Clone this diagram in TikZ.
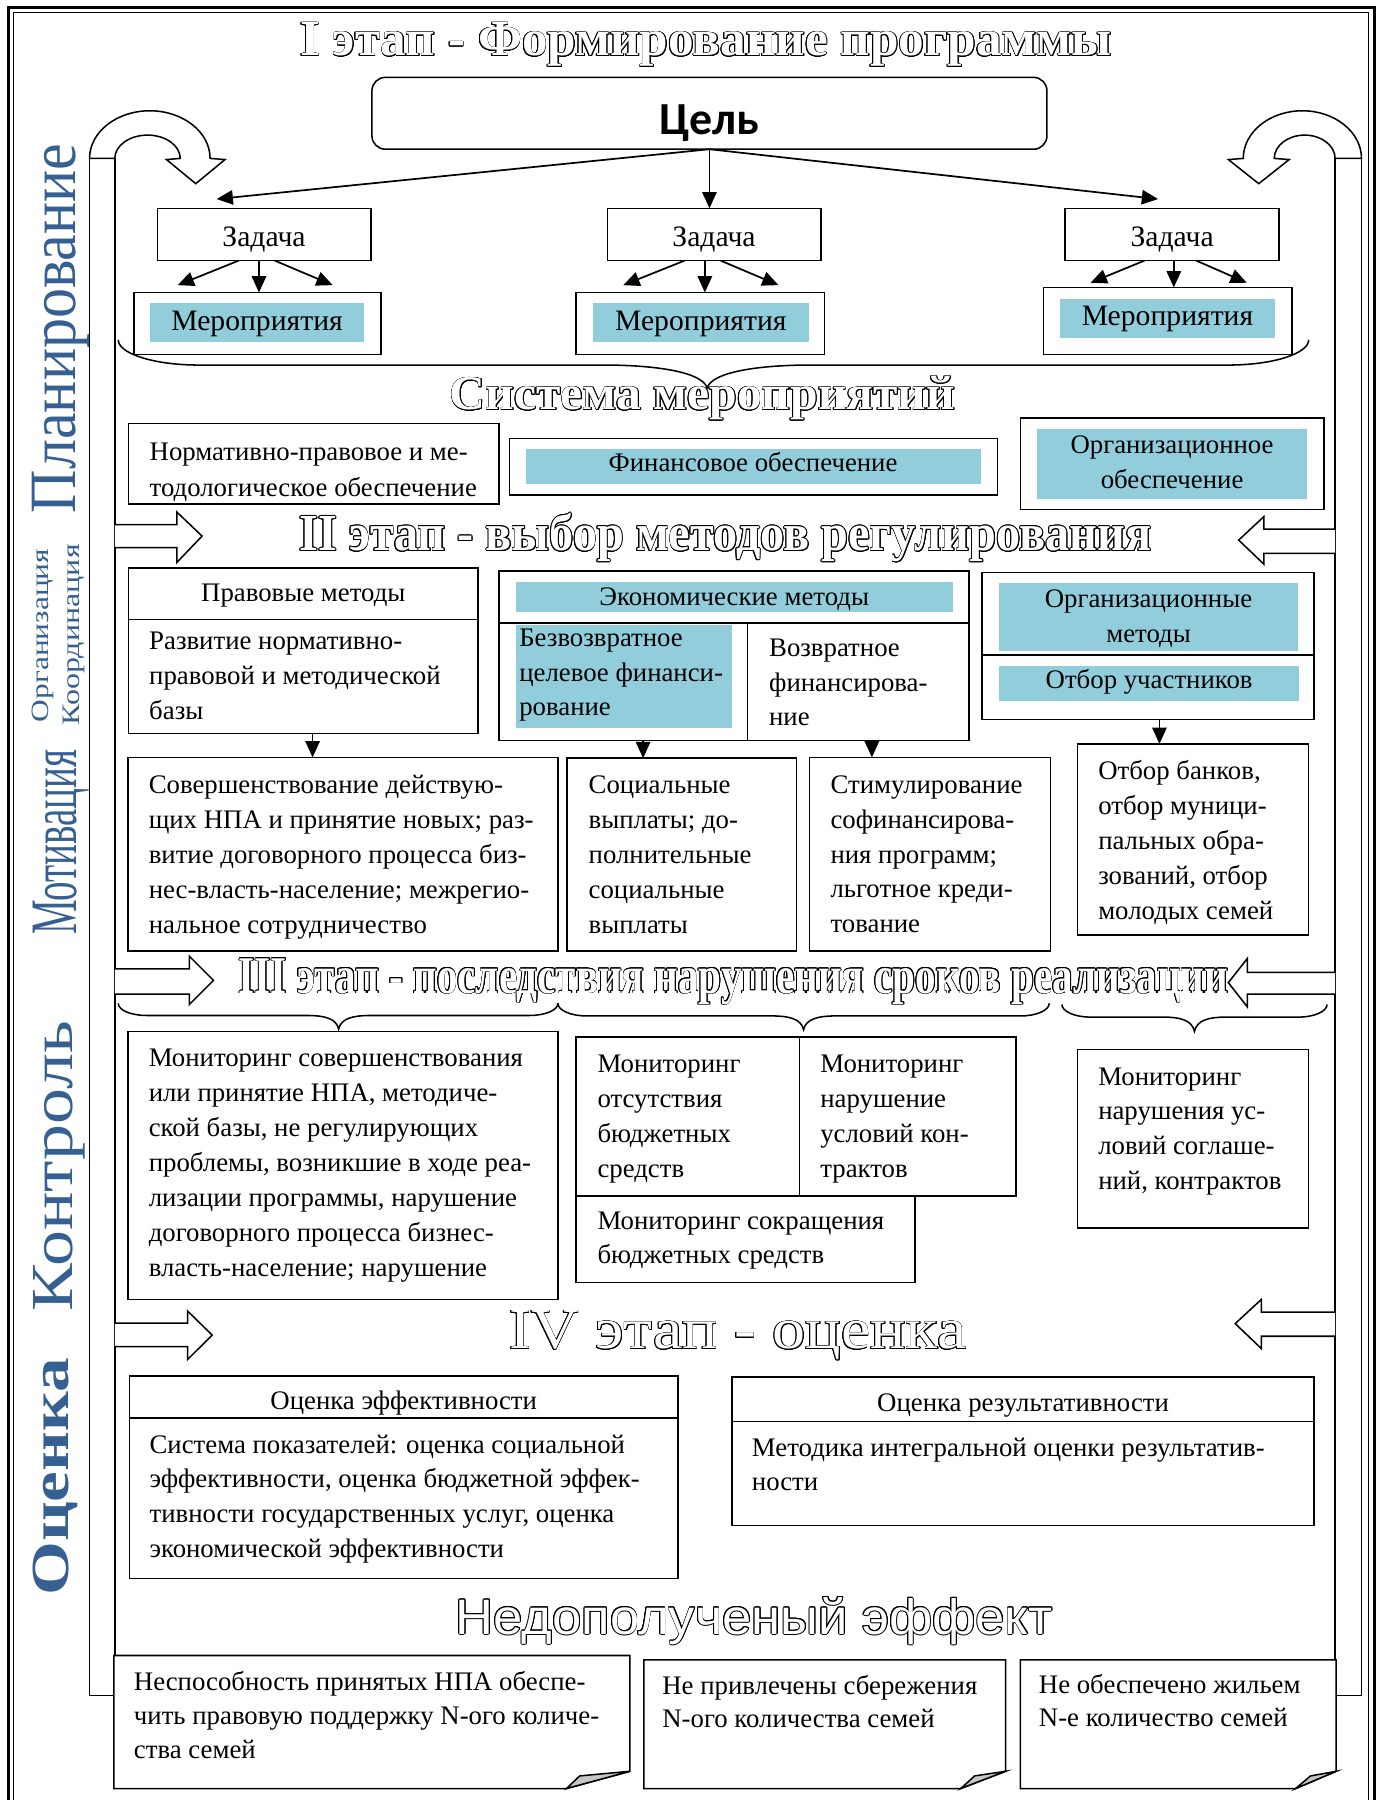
\documentclass[tikz,border=0pt]{standalone}
\usepackage{fontspec}
\setmainfont{Liberation Serif}
\newfontfamily\sansf{Liberation Sans}
\newfontfamily\calibf{Carlito}
\usetikzlibrary{arrows.meta,calc,fit}

\definecolor{aqua}{RGB}{146,205,220}
\definecolor{lblue}{RGB}{55,96,146}

\newcommand\bodyfont{\fontsize{14}{18.24}\selectfont}
% left-aligned block of explicit lines, baseline = first line
\newcommand\lines[2][18.24pt]{\parbox[t]{12cm}{\fontsize{14}{#1}\selectfont\raggedright #2}}
% centred block of explicit lines
\newcommand\clines[2]{\parbox[t]{#1}{\bodyfont\centering #2}}
% hollow (outlined) lettering: black copies around a white copy
\newcommand\outlinetext[1]{%
  \leavevmode\rlap{\color{black}%
    \foreach \ang in {0,22.5,...,337.5}{%
      \pgfmathsetlengthmacro\dx{0.42pt*cos(\ang)}%
      \pgfmathsetlengthmacro\dy{0.42pt*sin(\ang)}%
      \rlap{\hspace*{\dx}\raisebox{\dy}{#1}}}}%
  {\color{white}#1}}

\tikzset{
  ln/.style={line width=0.8pt},
  box/.style={draw, line width=0.8pt, fill=white, inner sep=0pt, outer sep=0pt},
  bluebox/.style={fill=aqua, inner sep=0pt, outer sep=0pt},
  txt/.style={anchor=base west, inner sep=0pt, outer sep=0pt},
  ctxt/.style={anchor=base, inner sep=0pt, outer sep=0pt, font=\bodyfont},
  ztxt/.style={anchor=base, inner sep=0pt, outer sep=0pt, font=\fontsize{15.5}{18}\selectfont},
  arr/.style={line width=0.9pt, -{Triangle[length=8.5pt,width=7.5pt]}},
  blockarrow/.style={draw, line width=0.8pt, fill=white, line join=miter},
  vlabel/.style={rotate=90, inner sep=0pt, outer sep=0pt, text=lblue},
  title/.style={inner sep=0pt, outer sep=0pt},
}

\begin{document}
\begin{tikzpicture}[x=0.6pt, y=-0.6pt]
\useasboundingbox (0,0) rectangle (1200,1568);

% ---------- page frame (thick outside, thin inside)
\draw[line width=1.6pt] (7,6.4) rectangle (1197,1600);
\draw[line width=0.7pt] (12,11) rectangle (1192,1600);

% ---------- feedback bands on both sides
\draw[ln] (78,138) -- (78,1477) -- (100,1477) -- (100,138);
\draw[ln] (1186,138) -- (1186,1477) -- (1163,1477) -- (1163,138);

% U-turn arrows on top of the bands
\draw[blockarrow] (78,138) .. controls (78,115.1) and (101.5,96.5) .. (130.5,96.5)
  .. controls (159.5,96.5) and (183,115.1) .. (183,138) -- (196,139) -- (170.5,160)
  -- (145,139) -- (157,138) .. controls (157,126.8) and (144.2,117.7) .. (128.5,117.7)
  .. controls (112.8,117.7) and (100,126.8) .. (100,138) -- cycle;
\draw[blockarrow] (1186,138) .. controls (1186,115.1) and (1162.9,96.5) .. (1134.5,96.5)
  .. controls (1106.1,96.5) and (1083,115.1) .. (1083,138) -- (1070,139) -- (1096.5,160)
  -- (1123,139) -- (1110,138) .. controls (1110,126.8) and (1121.9,117.7) .. (1136.5,117.7)
  .. controls (1151.1,117.7) and (1163,126.8) .. (1163,138) -- cycle;

% hollow block arrows leaving the bands
\draw[blockarrow] (100,457) -- (154,457) -- (154,446) -- (176,467) -- (154,490) -- (154,477) -- (100,477);
\draw[blockarrow] (1163,461) -- (1101,461) -- (1101,450) -- (1079,470.5) -- (1101,491.5) -- (1101,482) -- (1163,482);
\draw[blockarrow] (100,844) -- (165,844) -- (165,833) -- (186,854) -- (165,875) -- (165,866) -- (100,866);
\draw[blockarrow] (1163,847) -- (1086.5,847) -- (1086.5,835) -- (1070,856) -- (1086.5,877) -- (1086.5,866) -- (1163,866);
\draw[blockarrow] (100,1152.5) -- (163.4,1152.5) -- (163.4,1142) -- (184.8,1163) -- (163.4,1184.3) -- (163.4,1173) -- (100,1173);
\draw[blockarrow] (1163,1143) -- (1098.7,1143) -- (1098.7,1132) -- (1076,1153) -- (1098.7,1174.7) -- (1098.7,1164) -- (1163,1164);

% ---------- vertical labels of the management functions
\node[vlabel] (lab-plan) at (53,286) {\resizebox*{193.2pt}{30pt}{Планирование}};
\node[vlabel] (lab-org)  at (37.5,553.5) {\resizebox*{90.6pt}{11.4pt}{Организация}};
\node[vlabel] (lab-coord) at (64.5,553) {\resizebox*{94.8pt}{11.4pt}{Координация}};
\node[vlabel] (lab-mot)  at (53.5,733.6) {\resizebox*{97pt}{29.4pt}{Мотивация}};
\node[vlabel] (lab-ctrl) at (51.5,1015.5) {\resizebox*{151.8pt}{27pt}{Контроль}};
\node[vlabel] (lab-eval) at (48.5,1286.5) {\resizebox*{124.2pt}{23.4pt}{\bfseries Оценка}};

% ---------- stage titles (hollow lettering)
\node[title] (st1) at (615,38.9) {\outlinetext{\resizebox*{424.2pt}{22.9pt}{\bfseries I этап - Формирование программы}}};
\node[title] (sys) at (612,347) {\outlinetext{\resizebox*{264pt}{22.8pt}{\bfseries Система мероприятий}}};
\node[title] (st2) at (632,468.4) {\outlinetext{\resizebox*{445.2pt}{25.3pt}{\bfseries II этап - выбор методов регулирования}}};
\node[title] (st3) at (639,855) {\outlinetext{\resizebox*{517.2pt}{24.1pt}{\bfseries III этап - последствия нарушения сроков реализации}}};
\node[title] (st4) at (642.7,1163.4) {\outlinetext{\resizebox*{239pt}{25.7pt}{IV этап - оценка}}};
\node[title] (lost) at (657,1412) {\outlinetext{\resizebox*{312pt}{24.7pt}{\sansf Недополученый эффект}}};

% ---------- stage I: goal, tasks, measures
\node[box, rounded corners=7pt, fit={(324,67.4) (912,130)}] (cel) {};
\node[anchor=base, inner sep=0pt, font=\calibf\bfseries\fontsize{24}{28}\selectfont] (cel-t) at (618,117.1) {Цель};

\node[box, fit={(137,181.5) (323,227)}] (zad1) {};
\node[box, fit={(529,181.5) (715,227)}] (zad2) {};
\node[box, fit={(927.5,181.5) (1114.3,227)}] (zad3) {};
\node[ztxt] (zad1-t) at (230,214.4) {Задача};
\node[ztxt] (zad2-t) at (622,214.4) {Задача};
\node[ztxt] (zad3-t) at (1021,214.4) {Задача};

\node[box, fit={(116.7,254.8) (331.9,308.8)}] (mer1) {};
\node[box, fit={(501.9,254.8) (718.4,308.8)}] (mer2) {};
\node[box, fit={(908.8,250.4) (1125.3,308.8)}] (mer3) {};
\node[bluebox, fit={(130.7,264.3) (317,297.8)}] (mer1-b) {};
\node[bluebox, fit={(516.7,264.3) (704.4,297.8)}] (mer2-b) {};
\node[bluebox, fit={(923.2,260.6) (1111,294.3)}] (mer3-b) {};
\node[ztxt] (mer1-t) at (223.9,287.6) {Мероприятия};
\node[ztxt] (mer2-t) at (610.5,287.6) {Мероприятия};
\node[ztxt] (mer3-t) at (1017,283.2) {Мероприятия};

% goal -> tasks
\coordinate (cel-l) at (188.7,173.4);
\coordinate (cel-r) at (1008.8,173.4);
\draw[arr] (cel.south) -- (cel-l);
\draw[arr] (cel.south) -- (cel.south |- zad2.north);
\draw[arr] (cel.south) -- (cel-r);

% tasks -> measures
\coordinate (z1c) at ($(zad1.south)+(-4.4,0)$);
\coordinate (z2c) at ($(zad2.south)+(-8,0)$);
\coordinate (z3c) at ($(zad3.south)+(1.6,0)$);
\draw[arr] (z1c) -- (z1c |- mer1.north);
\draw[arr] (z2c) -- (z2c |- mer2.north);
\draw[arr] (z3c) -- (z3c |- mer3.north);
\draw[arr] ($(zad1.south)+(-22,0)$) -- ($(mer1.north)+(-69.5,-6.4)$);
\draw[arr] ($(zad1.south)+(9.3,0)$) -- ($(mer1.north)+(65.5,-6.4)$);
\draw[arr] ($(zad2.south)+(-25.6,0)$) -- ($(mer2.north)+(-67.2,-6.4)$);
\draw[arr] ($(zad2.south)+(5.7,0)$) -- ($(mer2.north)+(68,-6.4)$);
\draw[arr] ($(zad3.south)+(-23.9,0)$) -- ($(mer3.north)+(-67,-4.1)$);
\draw[arr] ($(zad3.south)+(21.1,0)$) -- ($(mer3.north)+(69,-4.1)$);

% brace gathering the measures
\draw[ln] (103,296) .. controls (103,308) and (134,318) .. (173,318) -- (526,318)
  .. controls (571,318) and (612,324) .. (616,338)
  .. controls (620,324) and (661,318) .. (706,318) -- (1070,318)
  .. controls (1109,318) and (1140,308) .. (1140,296);

% system of measures
\node[box, fit={(112,369) (434.6,439.2)}] (norm) {};
\node[txt] (norm-t) at (130.4,401) {\lines[19pt]{Нормативно-правовое и ме-\\тодологическое обеспечение}};
\node[box, fit={(444,382) (868.9,431.4)}] (fin) {};
\node[bluebox, fit={(458.3,390.7) (854.4,421.8)}] (fin-b) {};
\node[ctxt] (fin-t) at (656,411) {Финансовое обеспечение};
\node[box, fit={(888.8,364) (1153.4,443.9)}] (orgo) {};
\node[bluebox, fit={(903.3,373.3) (1138.6,434.3)}] (orgo-b) {};
\node[anchor=base, inner sep=0pt] (orgo-t) at (1021,395) {\clines{7cm}{Организационное\\обеспечение}};

% ---------- stage II: methods
\node[box, fit={(112,494.7) (416.3,539.7)}] (prav-h) {};
\node[box, fit={(112,539.7) (416.3,639)}] (prav-b) {};
\node[ctxt] (prav-ht) at (264.2,524.3) {Правовые методы};
\node[txt] (prav-bt) at (130,565.9) {\lines{Развитие нормативно-\\правовой и методической\\базы}};

\node[box, fit={(434.6,497.3) (843.9,542.6)}] (econ-h) {};
\node[box, fit={(434.6,542.6) (651.3,644.9)}] (econ-l) {};
\node[box, fit={(651.3,542.6) (843.9,644.9)}] (econ-r) {};
\node[bluebox, fit={(449.4,506.9) (829.8,533)}] (econ-hb) {};
\node[bluebox, fit={(449.4,544.7) (637.6,633.8)}] (econ-lb) {};
\node[ctxt] (econ-ht) at (639.6,527.2) {Экономические методы};
\node[txt] (econ-lt) at (452.4,563.6) {\lines[18pt]{Безвозвратное\\целевое финанси-\\рование}};
\node[txt] (econ-rt) at (670,572.3) {\lines[18pt]{Возвратное\\финансирова-\\ние}};

\node[box, fit={(855.2,498.8) (1144.8,570.8)}] (orgm-h) {};
\node[box, fit={(855.2,570.8) (1144.8,626.6)}] (orgm-s) {};
\node[bluebox, fit={(870.4,507.5) (1130.7,567)}] (orgm-hb) {};
\node[bluebox, fit={(870.4,580.4) (1131.6,610.6)}] (orgm-sb) {};
\node[anchor=base, inner sep=0pt] (orgm-ht) at (1000.5,529.3) {\clines{7cm}{Организационные\\методы}};
\node[ctxt] (orgm-st) at (1001,599.9) {Отбор участников};

\node[box, fit={(111.7,659.8) (486.3,828.5)}] (sov) {};
\node[box, fit={(494.1,660.5) (694,828.5)}] (soc) {};
\node[box, fit={(705,659.8) (915.2,828.5)}] (stim) {};
\node[box, fit={(938.5,648) (1139.9,814.5)}] (otb) {};
\node[txt] (sov-t) at (129.6,691.6) {\lines{Совершенствование действую-\\щих НПА и принятие новых; раз-\\витие договорного процесса биз-\\нес-власть-население; межрегио-\\нальное сотрудничество}};
\node[txt] (soc-t) at (512.8,691.6) {\lines{Социальные\\выплаты; до-\\полнительные\\социальные\\выплаты}};
\node[txt] (stim-t) at (723.5,691) {\lines{Стимулирование\\софинансирова-\\ния программ;\\льготное креди-\\тование}};
\node[txt] (otb-t) at (956.7,679.1) {\lines{Отбор банков,\\отбор муници-\\пальных обра-\\зований, отбор\\молодых семей}};

\coordinate (d1) at ($(prav-b.south west)+(160.3,0)$);
\coordinate (d2) at ($(econ-l.south west)+(125.6,0)$);
\coordinate (d3) at ($(econ-r.south west)+(108.2,0)$);
\coordinate (d4) at ($(orgm-s.south west)+(154.8,0)$);
\draw[arr] (d1) -- (d1 |- sov.north);
\draw[arr] (d2) -- (d2 |- soc.north);
\draw[arr] (d3) -- (d3 |- stim.north);
\draw[arr] (d4) -- (d4 |- otb.north);

% ---------- stage III: monitoring
\draw[ln] (103,874) .. controls (103,880) and (114,884.6) .. (128,884.6) -- (268,884.6)
  .. controls (282,884.6) and (293,887) .. (295,896.4)
  .. controls (297,887) and (308,884.6) .. (322,884.6) -- (461,884.6)
  .. controls (475,884.6) and (486,880) .. (486,874);
\draw[ln] (486,874) .. controls (486,880) and (497,885) .. (511,885) -- (673,885)
  .. controls (687,885) and (698,887.5) .. (700,897)
  .. controls (702,887.5) and (713,885) .. (727,885) -- (889,885)
  .. controls (903,885) and (914,880) .. (914,874);
\draw[ln] (925,875) .. controls (925,881) and (936,886) .. (950,886) -- (1013.5,886)
  .. controls (1027.5,886) and (1038.5,888.5) .. (1040.5,898.5)
  .. controls (1042.5,888.5) and (1053.5,886) .. (1067.5,886) -- (1131,886)
  .. controls (1145,886) and (1156,881) .. (1156,875);

\node[box, fit={(111.7,898.5) (486.3,1132)}] (mon1) {};
\node[box, fit={(501.9,903.2) (696.4,1041.8)}] (mon2) {};
\node[box, fit={(696.4,903.2) (885,1041.8)}] (mon3) {};
\node[box, fit={(501.9,1041.8) (797.1,1117.3)}] (mon4) {};
\node[box, fit={(938.5,914.1) (1139.9,1069.7)}] (mon5) {};
\node[txt] (mon1-t) at (129.6,928.7) {\lines[18.3pt]{Мониторинг совершенствования\\или принятие НПА, методиче-\\ской базы, не регулирующих\\проблемы, возникшие в ходе реа-\\лизации программы, нарушение\\договорного процесса бизнес-\\власть-население; нарушение}};
\node[txt] (mon2-t) at (520.5,934.3) {\lines{Мониторинг\\отсутствия\\бюджетных\\средств}};
\node[txt] (mon3-t) at (714.6,934.3) {\lines{Мониторинг\\нарушение\\условий кон-\\трактов}};
\node[txt] (mon4-t) at (520.5,1071) {\lines[18pt]{Мониторинг сокращения\\бюджетных средств}};
\node[txt] (mon5-t) at (956.7,945.2) {\lines{Мониторинг\\нарушения ус-\\ловий соглаше-\\ний, контрактов}};

% ---------- stage IV: evaluation
\node[box, fit={(112.8,1198.7) (590.6,1235.4)}] (eff-h) {};
\node[box, fit={(112.8,1235.4) (590.6,1375)}] (eff-b) {};
\node[ctxt] (eff-ht) at (351.7,1227.6) {Оценка эффективности};
\node[txt] (eff-bt) at (130.3,1265.8) {\lines[18.2pt]{Система показателей: оценка социальной\\эффективности, оценка бюджетной эффек-\\тивности государственных услуг, оценка\\экономической эффективности}};

\node[box, fit={(637.6,1199.3) (1144.8,1238.4)}] (res-h) {};
\node[box, fit={(637.6,1238.4) (1144.8,1328.8)}] (res-b) {};
\node[ctxt] (res-ht) at (891.2,1229.6) {Оценка результативности};
\node[txt] (res-bt) at (655,1268.7) {\lines[17.8pt]{Методика интегральной оценки результатив-\\ности}};

% ---------- lost effect: notes with folded corners
\draw[ln, fill=white] (99.2,1442.1) -- (548.6,1442.1) -- (548.6,1543) -- (493.5,1558) -- (99.2,1558) -- cycle;
\draw[ln, fill=gray!45] (493.5,1558) -- (505,1547) -- (548.6,1543) -- cycle;
\draw[ln, fill=white] (560.9,1446) -- (875.9,1446) -- (875.9,1543) -- (836.9,1558) -- (560.9,1558) -- cycle;
\draw[ln, fill=gray!45] (836.9,1558) -- (849,1547) -- (875.9,1543) -- cycle;
\draw[ln, fill=white] (888.8,1446) -- (1163.9,1446) -- (1163.9,1543) -- (1128.6,1558) -- (888.8,1558) -- cycle;
\draw[ln, fill=gray!45] (1128.6,1558) -- (1141.6,1547) -- (1163.9,1543) -- cycle;
\node[txt] (ned1-t) at (116.7,1473) {\lines[17.6pt]{Неспособность принятых НПА обеспе-\\чить правовую поддержку N-ого количе-\\ства семей}};
\node[txt] (ned2-t) at (577,1476) {\lines[17.4pt]{Не привлечены сбережения\\N-ого количества семей}};
\node[txt] (ned3-t) at (905,1475.3) {\lines[17.4pt]{Не обеспечено жильем\\N-е количество семей}};

\end{tikzpicture}
\end{document}
